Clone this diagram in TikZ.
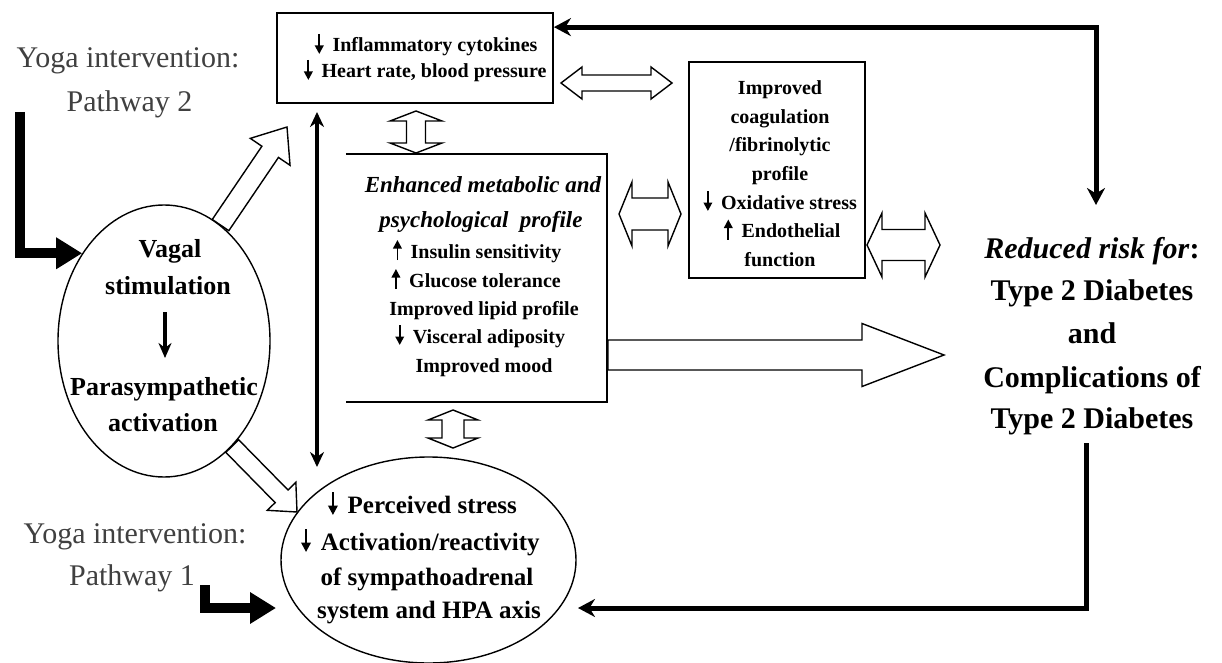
\documentclass[tikz,border=0pt]{standalone}
\usepackage{fontspec}
\setmainfont{Liberation Serif}
\usetikzlibrary{arrows.meta,calc,shapes.geometric}
\newsavebox\uparbox
\newsavebox\dnarbox
\newsavebox\dnarbigbox
\newcommand\upar{\usebox\uparbox}
\newcommand\dnar{\usebox\dnarbox}
\newcommand\dnarbig{\usebox\dnarbigbox}
% small vertical arrow glyph: #1 line width, #2 tip size, #3 start y, #4 end y
\newcommand\mkarrow[4]{%
\begin{pgfpicture}%
\pgfsetbaseline{0pt}%
\pgfsetlinewidth{#1}%
\pgfsetarrowsend{Triangle[length=#2,width=#2]}%
\pgfpathmoveto{\pgfpoint{0pt}{#3}}%
\pgfpathlineto{\pgfpoint{0pt}{#4}}%
\pgfusepath{stroke}%
\end{pgfpicture}}
% open double arrow: #1 end A, #2 end B, #3 shaft half width, #4 head half width, #5 head length
\newcommand\openDbl[5]{%
\draw[openar] (#1)
 -- ($(#1)!#5!(#2)!#4!90:(#2)$)
 -- ($(#1)!#5!(#2)!#3!90:(#2)$)
 -- ($(#2)!#5!(#1)!#3!-90:(#1)$)
 -- ($(#2)!#5!(#1)!#4!-90:(#1)$)
 -- (#2)
 -- ($(#2)!#5!(#1)!#4!90:(#1)$)
 -- ($(#2)!#5!(#1)!#3!90:(#1)$)
 -- ($(#1)!#5!(#2)!#3!-90:(#2)$)
 -- ($(#1)!#5!(#2)!#4!-90:(#2)$)
 -- cycle;}
% open single arrow from #1 (tail) to #2 (tip)
\newcommand\openSgl[5]{%
\draw[openar] ($(#1)!#3!90:(#2)$)
 -- ($(#2)!#5!(#1)!#3!-90:(#1)$)
 -- ($(#2)!#5!(#1)!#4!-90:(#1)$)
 -- (#2)
 -- ($(#2)!#5!(#1)!#4!90:(#1)$)
 -- ($(#2)!#5!(#1)!#3!90:(#1)$)
 -- ($(#1)!#3!-90:(#2)$)
 -- cycle;}
\begin{document}
\sbox\uparbox{\hspace{4.5pt}\mkarrow{1.9pt}{8.5pt}{-2pt}{18pt}\hspace{9pt}}%
\sbox\dnarbox{\hspace{4.5pt}\mkarrow{1.9pt}{8.5pt}{18pt}{-2pt}\hspace{9pt}}%
\sbox\dnarbigbox{\hspace{5pt}\mkarrow{2.1pt}{9.5pt}{21pt}{-2pt}\hspace{10pt}}%
\begin{tikzpicture}[x=1pt,y=-1pt,
  openar/.style={draw=black, fill=white, line width=1.4pt, line join=miter},
  boxd/.style={draw=black, line width=1.8pt, inner sep=0pt},
  elld/.style={ellipse, draw=black, line width=1.4pt, inner sep=0pt},
  patharr/.style={line width=10pt, line join=miter, -{Triangle[length=26pt,width=30pt]}},
  fbar/.style={line width=5pt, line join=miter},
  thinar/.style={line width=3.5pt},
  txtb/.style={anchor=base, inner sep=0pt, font=\fontsize{20}{24}\selectfont\bfseries},
  txtbi/.style={anchor=base, inner sep=0pt, font=\fontsize{23}{28}\selectfont\bfseries\itshape},
  txtr/.style={anchor=base, inner sep=0pt, font=\fontsize{30}{36}\selectfont\bfseries},
  txty/.style={anchor=base, inner sep=0pt, font=\fontsize{30}{36}\selectfont, text=black!75},
  txtv/.style={anchor=base, inner sep=0pt, font=\fontsize{26}{30}\selectfont\bfseries},
  txte/.style={anchor=base, inner sep=0pt, font=\fontsize{25}{30}\selectfont\bfseries}]
\path[use as bounding box] (0,0) rectangle (1222,663);

% ---------- shapes ----------
\node[boxd, minimum width=276pt, minimum height=90pt] (topbox) at (415,58) {};
\node[boxd, minimum width=176pt, minimum height=216pt] (coag) at (777,170) {};
\node[inner sep=0pt, minimum width=261pt, minimum height=248pt] (meta) at (476.5,278) {};
\draw[line width=1.8pt, line join=miter] (meta.north west) -- (meta.north east) -- (meta.south east) -- (meta.south west);
\node[elld, minimum width=212pt, minimum height=272pt] (vagal) at (164,341) {};
\node[elld, minimum width=295pt, minimum height=206pt] (stress) at (428.5,560) {};

% ---------- texts ----------
\node[txty] (y2a) at (128,68) {Yoga intervention:};
\node[txty] (y2b) at (129.5,112) {Pathway 2};
\node[txty] (y1a) at (135,543) {Yoga intervention:};
\node[txty] (y1b) at (132,585) {Pathway 1};

\node[txtb] (tb1) at (424,52) {\dnar Inflammatory cytokines};
\node[txtb] (tb2) at (423,78) {\dnar Heart rate, blood pressure};

\node[txtbi] (m1) at (483,193) {Enhanced metabolic and};
\node[txtbi] (m2) at (481,227) {psychological~~profile};
\node[txtb] (m3) at (475,258) {\upar Insulin sensitivity};
\node[txtb] (m4) at (474,287) {\upar Glucose tolerance};
\node[txtb] (m5) at (484,315) {Improved lipid profile};
\node[txtb] (m6) at (478,343) {\dnar Visceral adiposity};
\node[txtb] (m7) at (484,372) {Improved mood};

\node[txtb] (c1) at (780,95) {Improved};
\node[txtb] (c2) at (780,123.5) {coagulation};
\node[txtb] (c3) at (780,152) {/fibrinolytic};
\node[txtb] (c4) at (780,180.5) {profile};
\node[txtb] (c5) at (778,209) {\dnar Oxidative stress};
\node[txtb] (c6) at (780,237.5) {\upar Endothelial};
\node[txtb] (c7) at (780,266) {function};

\node[txtr] (r1) at (1092,258) {\textit{Reduced risk for}:};
\node[txtr] (r2) at (1092,300) {Type 2 Diabetes};
\node[txtr] (r3) at (1092,343) {and};
\node[txtr] (r4) at (1092,387) {Complications of};
\node[txtr] (r5) at (1092,428) {Type 2 Diabetes};

\node[txtv] (v1) at (170,257) {Vagal};
\node[txtv] (v2) at (168,294) {stimulation};
\node[txtv] (v3) at (164,395) {Parasympathetic};
\node[txtv] (v4) at (163,431) {activation};

\node[txte] (s1) at (420,513) {\dnarbig Perceived stress};
\node[txte] (s2) at (418,550) {\dnarbig Activation/reactivity};
\node[txte] (s3) at (427,585) {of sympathoadrenal};
\node[txte] (s4) at (429,618) {system and HPA axis};

% ---------- coordinates for free ends ----------
\coordinate (p2s) at (20,112);
\coordinate (p1s) at (205,585);
\coordinate (p1e) at (276,608);
\coordinate (fbT) at (1096,205);
\coordinate (fbB) at (1086,443);
\coordinate (fbE) at (578,608);
\coordinate (va) at (317,112);
\coordinate (vb) at (317,467);
\coordinate (ia) at (165,312);
\coordinate (ib) at (165,358);
\coordinate (oa1) at (287,127);
\coordinate (oa2) at (297,512);
\coordinate (d1a) at (561,83);  \coordinate (d1b) at (672,83);
\coordinate (d2a) at (416,111); \coordinate (d2b) at (416,153);
\coordinate (d3a) at (619,214); \coordinate (d3b) at (681,214);
\coordinate (d4a) at (867,245); \coordinate (d4b) at (940,245);
\coordinate (d5a) at (453,410); \coordinate (d5b) at (453,448);
\coordinate (s3a) at (608,355); \coordinate (s3b) at (944,355);

% ---------- black connectors ----------
\draw[patharr] (p2s) |- (vagal.133);
\draw[patharr] (p1s) |- (p1e);
\draw[fbar, {Stealth[length=17pt,width=18pt]}-{Stealth[length=17pt,width=18pt]}]
  ([yshift=-15pt]topbox.north east) -| (fbT);
\draw[fbar, -{Stealth[length=17pt,width=18pt]}] (fbB) |- (fbE);
\draw[thinar, {Stealth[length=15pt,width=14pt]}-{Stealth[length=15pt,width=14pt]}] (va) -- (vb);
\draw[thinar, -{Stealth[length=15pt,width=13pt]}] (ia) -- (ib);

% ---------- open block arrows ----------
\openSgl{vagal.64}{oa1}{10pt}{24pt}{30pt}
\openSgl{vagal.-57}{oa2}{9pt}{20pt}{22pt}
\openDbl{d1a}{d1b}{8pt}{16pt}{21pt}
\openDbl{d2a}{d2b}{9.5pt}{26pt}{10pt}
\openDbl{d3a}{d3b}{16pt}{32pt}{13pt}
\openDbl{d4a}{d4b}{15.5pt}{32pt}{15pt}
\openSgl{s3a}{s3b}{15pt}{31.5pt}{82pt}
\openDbl{d5a}{d5b}{11pt}{25pt}{10pt}
\end{tikzpicture}
\end{document}
